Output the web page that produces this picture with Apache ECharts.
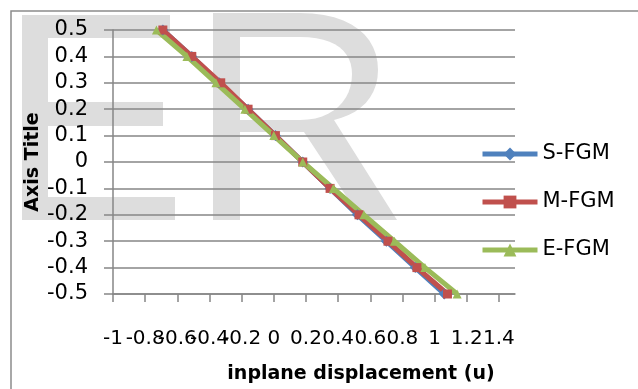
<!DOCTYPE html>
<html>
<head>
<meta charset="utf-8">
<script src="https://cdn.jsdelivr.net/npm/echarts@6/dist/echarts.min.js"></script>
<style>
html,body{margin:0;padding:0;background:#fff;}
#chart{width:638px;height:389px;}
</style>
</head>
<body>
<div id="chart"></div>
<script>
// ---- data ----
var yValues = [0.5, 0.4, 0.3, 0.2, 0.1, 0, -0.1, -0.2, -0.3, -0.4, -0.5];
var sFGM = [-0.69, -0.51, -0.34, -0.16, 0.01, 0.18, 0.35, 0.52, 0.70, 0.88, 1.06];
var mFGM = [-0.69, -0.51, -0.33, -0.16, 0.01, 0.18, 0.35, 0.53, 0.71, 0.89, 1.08];
var eFGM = [-0.73, -0.54, -0.36, -0.18, 0.00, 0.18, 0.37, 0.56, 0.75, 0.94, 1.14];
var seriesNames = ['S-FGM', 'M-FGM', 'E-FGM'];
var xTicks = [-1, -0.8, -0.6, -0.4, -0.2, 0, 0.2, 0.4, 0.6, 0.8, 1, 1.2, 1.4];
var yTicks = [-0.5, -0.4, -0.3, -0.2, -0.1, 0, 0.1, 0.2, 0.3, 0.4, 0.5];
var xTitle = 'inplane displacement (u)';
var yTitle = 'Axis Title';

function pairs(xs) { return xs.map(function (x, i) { return [x, yValues[i]]; }); }
function fmt(v) { var r = Math.round(v * 10) / 10; return String(r === 0 ? 0 : r); }

// sample a cubic bezier for the decorative watermark outline
function bez(p0, p1, p2, p3, n) {
  var out = [];
  for (var i = 1; i <= n; i++) {
    var t = i / n, u = 1 - t;
    out.push([
      u*u*u*p0[0] + 3*u*u*t*p1[0] + 3*u*t*t*p2[0] + t*t*t*p3[0],
      u*u*u*p0[1] + 3*u*u*t*p1[1] + 3*u*t*t*p2[1] + t*t*t*p3[1]
    ]);
  }
  return out;
}
var rOuter = [[213,13],[300,13]]
  .concat(bez([300,13],[352,13],[378,37],[378,70],12))
  .concat(bez([378,70],[378,97],[360,114],[334,120],10))
  .concat([[397,220],[362,220],[304,132],[240,132],[240,220],[213,220]]);
var rInner = [[240,37],[300,37]]
  .concat(bez([300,37],[336,37],[352,52],[352,74],12))
  .concat(bez([352,74],[352,100],[333,120],[300,120],12))
  .concat([[240,120]]);

var FONT = 'DejaVu Sans';
var GRID = '#868686';
var WM = '#dddddd';

var chart = echarts.init(document.getElementById('chart'), null, {renderer: 'canvas'});
chart.setOption({
  animation: false,
  backgroundColor: '#ffffff',
  graphic: [
    {type: 'rect', z: -20, silent: true, shape: {x: 11, y: 11, width: 700, height: 500},
     style: {fill: null, stroke: '#8c8c8c', lineWidth: 1.5}},
    {type: 'rect', z: -10, silent: true, shape: {x: 22, y: 15, width: 26, height: 205}, style: {fill: WM}},
    {type: 'rect', z: -10, silent: true, shape: {x: 22, y: 15, width: 148, height: 23}, style: {fill: WM}},
    {type: 'rect', z: -10, silent: true, shape: {x: 22, y: 102, width: 141, height: 24}, style: {fill: WM}},
    {type: 'rect', z: -10, silent: true, shape: {x: 22, y: 197, width: 153, height: 23}, style: {fill: WM}},
    {type: 'polygon', z: -10, silent: true, shape: {points: rOuter}, style: {fill: WM}},
    {type: 'polygon', z: -9, silent: true, shape: {points: rInner}, style: {fill: '#ffffff'}}
  ],
  grid: {left: 113, top: 30, right: 123, bottom: 95, containLabel: false},
  legend: {
    orient: 'vertical', left: 480, top: 142, padding: 0,
    itemWidth: 55, itemHeight: 16, itemGap: 24,
    data: seriesNames,
    lineStyle: {width: 5},
    textStyle: {fontFamily: FONT, fontSize: 21, color: '#000', lineHeight: 24}
  },
  xAxis: {
    type: 'value', min: -1, max: 1.5, interval: 0.2,
    name: xTitle, nameLocation: 'middle', nameGap: 71,
    nameTextStyle: {fontFamily: FONT, fontSize: 19, fontWeight: 'bold', color: '#000', padding: [0, 0, 0, 94]},
    axisLine: {show: true, onZero: false, lineStyle: {color: GRID, width: 1.5}},
    axisTick: {show: true, inside: false, length: 8, lineStyle: {color: GRID, width: 1.5}, customValues: xTicks},
    axisLabel: {show: true, margin: 35, fontFamily: FONT, fontSize: 20, color: '#000',
      customValues: xTicks, formatter: fmt},
    splitLine: {show: false}
  },
  yAxis: {
    type: 'value', min: -0.5, max: 0.5, interval: 0.1,
    name: yTitle, nameLocation: 'middle', nameGap: 70, nameRotate: 90, nameMoveOverlap: false,
    nameTextStyle: {fontFamily: FONT, fontSize: 19, fontWeight: 'bold', color: '#000'},
    axisLine: {show: true, onZero: false, lineStyle: {color: GRID, width: 1.5}},
    axisTick: {show: true, inside: false, length: 9, lineStyle: {color: GRID, width: 1.5}},
    axisLabel: {show: true, margin: 25, fontFamily: FONT, fontSize: 21, color: '#000', formatter: fmt},
    splitLine: {show: true, lineStyle: {color: GRID, width: 1.5}}
  },
  series: [
    {name: seriesNames[0], type: 'line', data: pairs(sFGM), symbol: 'diamond', symbolSize: 11,
     color: '#4f81bd', lineStyle: {width: 5, color: '#4f81bd'}, itemStyle: {color: '#4f81bd'}},
    {name: seriesNames[1], type: 'line', data: pairs(mFGM), symbol: 'rect', symbolSize: 9,
     color: '#c0504d', lineStyle: {width: 5, color: '#c0504d'}, itemStyle: {color: '#c0504d'}},
    {name: seriesNames[2], type: 'line', data: pairs(eFGM), symbol: 'triangle', symbolSize: 9,
     color: '#9bbb59', lineStyle: {width: 5, color: '#9bbb59'}, itemStyle: {color: '#9bbb59'}}
  ]
});
</script>
</body>
</html>
